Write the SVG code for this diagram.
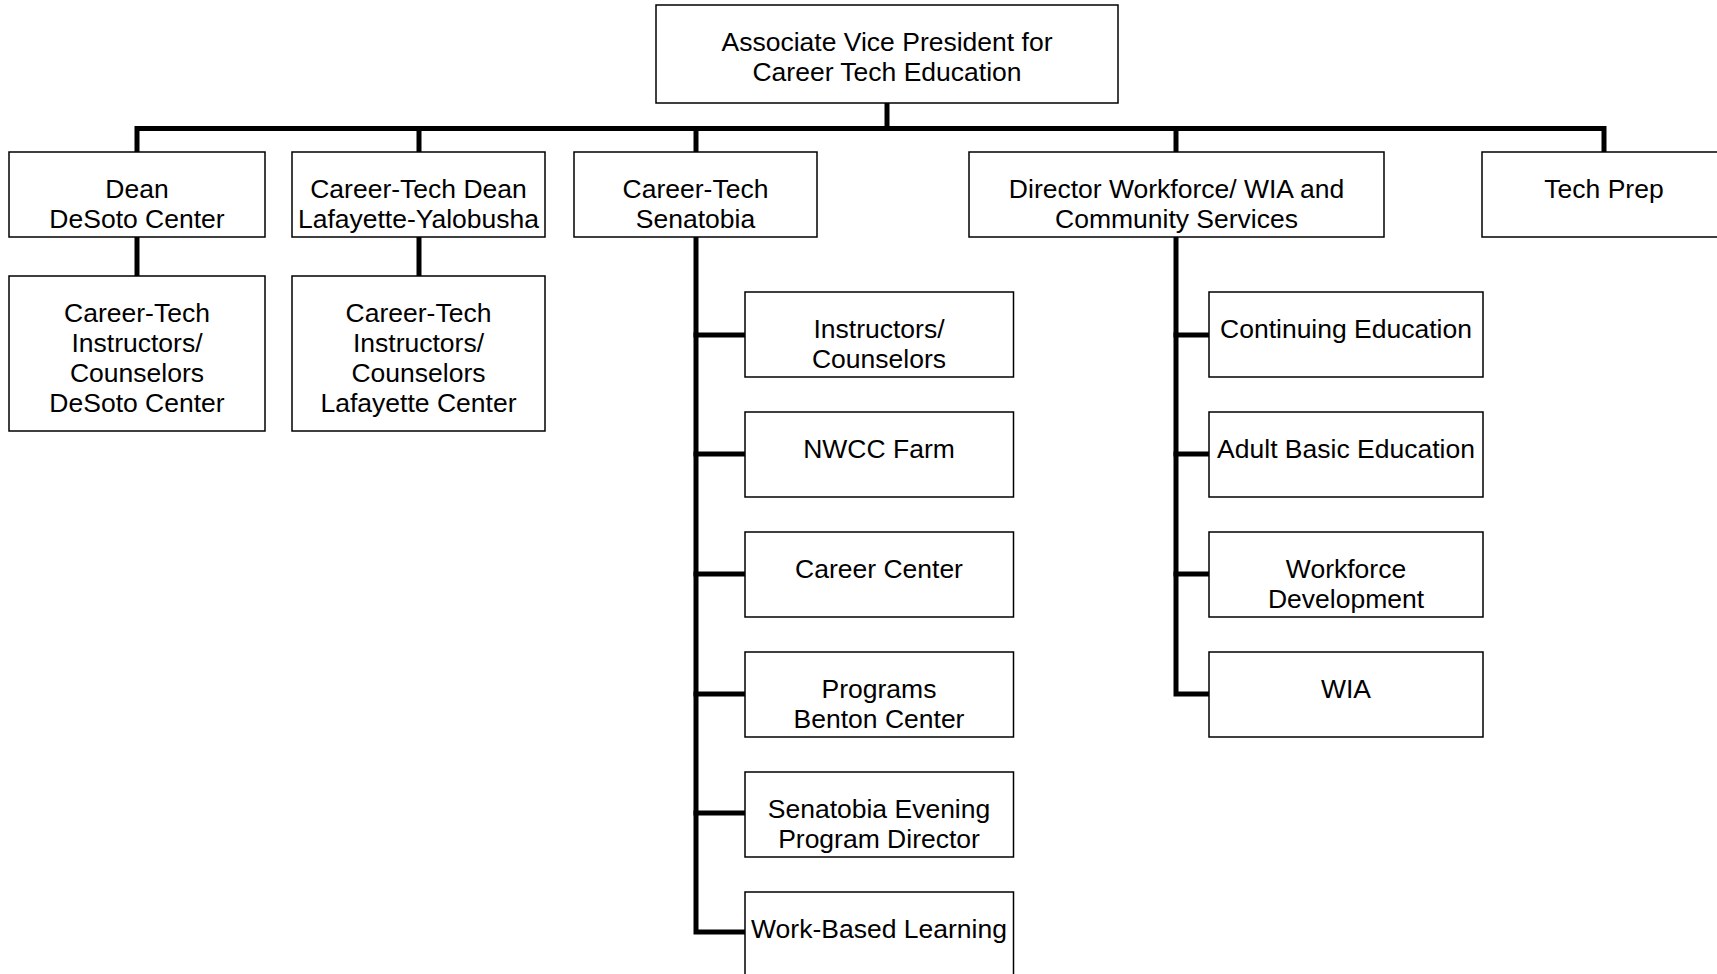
<svg xmlns="http://www.w3.org/2000/svg" width="1717" height="974" viewBox="0 0 1717 974">
  <style>
    .box { fill: #ffffff; stroke: #000000; stroke-width: 1.5; }
    .lbl { font-family: "Liberation Sans", Arial, sans-serif; font-size: 26.5px; fill: #000000; text-anchor: middle; }
    .wire { fill: none; stroke: #000000; stroke-width: 5; stroke-linecap: square; stroke-linejoin: miter; }
  </style>
  <rect width="1717" height="974" fill="#ffffff"/>

  <!-- reporting lines -->
  <g id="connectors" class="wire">
    <path d="M887,103 V128.5"/>
    <path d="M137,152 V128.5 H1604 V152"/>
    <path d="M419,128.5 V152"/>
    <path d="M696,128.5 V152"/>
    <path d="M1176,128.5 V152"/>
    <path d="M137,237 V276"/>
    <path d="M419,237 V276"/>
    <path d="M696,237 V932 H745"/>
    <path d="M696,335 H745"/>
    <path d="M696,454 H745"/>
    <path d="M696,574 H745"/>
    <path d="M696,694 H745"/>
    <path d="M696,813 H745"/>
    <path d="M1176,237 V694 H1209"/>
    <path d="M1176,335 H1209"/>
    <path d="M1176,454 H1209"/>
    <path d="M1176,574 H1209"/>
  </g>

  <g id="avp">
    <rect class="box" x="656" y="5" width="462" height="98"/>
    <text class="lbl" x="887" y="51">Associate Vice President for</text>
    <text class="lbl" x="887" y="81">Career Tech Education</text>
  </g>

  <g id="dean-desoto">
    <rect class="box" x="9" y="152" width="256" height="85"/>
    <text class="lbl" x="137" y="198">Dean</text>
    <text class="lbl" x="137" y="228">DeSoto Center</text>
  </g>
  <g id="dean-lafayette">
    <rect class="box" x="292" y="152" width="253" height="85"/>
    <text class="lbl" x="418.5" y="198">Career-Tech Dean</text>
    <text class="lbl" x="418.5" y="228">Lafayette-Yalobusha</text>
  </g>
  <g id="senatobia">
    <rect class="box" x="574" y="152" width="243" height="85"/>
    <text class="lbl" x="695.5" y="198">Career-Tech</text>
    <text class="lbl" x="695.5" y="228">Senatobia</text>
  </g>
  <g id="director-workforce">
    <rect class="box" x="969" y="152" width="415" height="85"/>
    <text class="lbl" x="1176.5" y="198">Director Workforce/ WIA and</text>
    <text class="lbl" x="1176.5" y="228">Community Services</text>
  </g>
  <g id="tech-prep">
    <rect class="box" x="1482" y="152" width="244" height="85"/>
    <text class="lbl" x="1604" y="198">Tech Prep</text>
  </g>

  <g id="instructors-desoto">
    <rect class="box" x="9" y="276" width="256" height="155"/>
    <text class="lbl" x="137" y="322">Career-Tech</text>
    <text class="lbl" x="137" y="352">Instructors/</text>
    <text class="lbl" x="137" y="382">Counselors</text>
    <text class="lbl" x="137" y="412">DeSoto Center</text>
  </g>
  <g id="instructors-lafayette">
    <rect class="box" x="292" y="276" width="253" height="155"/>
    <text class="lbl" x="418.5" y="322">Career-Tech</text>
    <text class="lbl" x="418.5" y="352">Instructors/</text>
    <text class="lbl" x="418.5" y="382">Counselors</text>
    <text class="lbl" x="418.5" y="412">Lafayette Center</text>
  </g>

  <g id="instructors-senatobia">
    <rect class="box" x="745" y="292" width="268.5" height="85"/>
    <text class="lbl" x="879" y="338">Instructors/</text>
    <text class="lbl" x="879" y="368">Counselors</text>
  </g>
  <g id="nwcc-farm">
    <rect class="box" x="745" y="412" width="268.5" height="85"/>
    <text class="lbl" x="879" y="458">NWCC Farm</text>
  </g>
  <g id="career-center">
    <rect class="box" x="745" y="532" width="268.5" height="85"/>
    <text class="lbl" x="879" y="578">Career Center</text>
  </g>
  <g id="programs-benton">
    <rect class="box" x="745" y="652" width="268.5" height="85"/>
    <text class="lbl" x="879" y="698">Programs</text>
    <text class="lbl" x="879" y="728">Benton Center</text>
  </g>
  <g id="evening-director">
    <rect class="box" x="745" y="772" width="268.5" height="85"/>
    <text class="lbl" x="879" y="818">Senatobia Evening</text>
    <text class="lbl" x="879" y="848">Program Director</text>
  </g>
  <g id="work-based-learning">
    <rect class="box" x="745" y="892" width="268.5" height="85"/>
    <text class="lbl" x="879" y="938">Work-Based Learning</text>
  </g>

  <g id="continuing-education">
    <rect class="box" x="1209" y="292" width="274" height="85"/>
    <text class="lbl" x="1346" y="338">Continuing Education</text>
  </g>
  <g id="adult-basic-education">
    <rect class="box" x="1209" y="412" width="274" height="85"/>
    <text class="lbl" x="1346" y="458">Adult Basic Education</text>
  </g>
  <g id="workforce-development">
    <rect class="box" x="1209" y="532" width="274" height="85"/>
    <text class="lbl" x="1346" y="578">Workforce</text>
    <text class="lbl" x="1346" y="608">Development</text>
  </g>
  <g id="wia">
    <rect class="box" x="1209" y="652" width="274" height="85"/>
    <text class="lbl" x="1346" y="698">WIA</text>
  </g>
</svg>
